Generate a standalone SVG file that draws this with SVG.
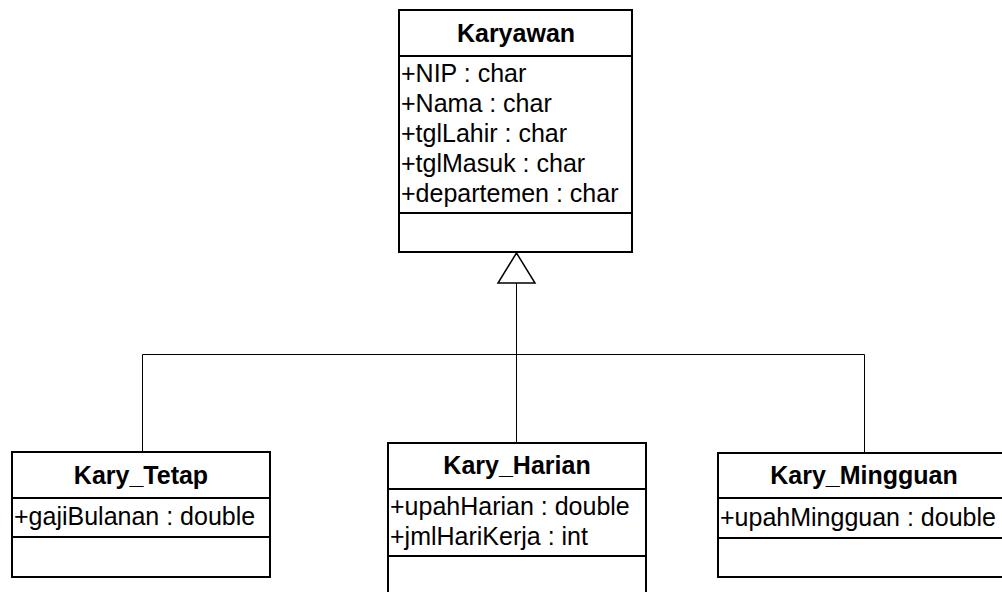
<svg xmlns="http://www.w3.org/2000/svg" width="1002" height="592" viewBox="0 0 1002 592">
  <style>
    .box { fill: #ffffff; stroke: #000000; stroke-width: 2; }
    .sep { stroke: #000000; stroke-width: 2; }
    .title { font-family: "Liberation Sans", Arial, sans-serif; font-size: 25px; font-weight: bold; fill: #000000; text-anchor: middle; }
    .attr { font-family: "Liberation Sans", Arial, sans-serif; font-size: 25px; fill: #000000; }
    .link { fill: none; stroke: #000000; stroke-width: 1; }
    .head { fill: #ffffff; stroke: #000000; stroke-width: 1.5; }
  </style>
  <rect width="1002" height="592" fill="#ffffff"/>

  <!-- generalization connectors -->
  <g id="connectors">
    <path class="link" d="M516.5 283 V443"/>
    <path class="link" d="M142.5 452 V354.5 H864.5 V453"/>
    <polygon class="head" points="516.5,253 498,283 535,283"/>
  </g>

  <!-- superclass -->
  <g id="Karyawan">
    <rect class="box" x="399" y="10" width="233" height="242"/>
    <line class="sep" x1="399" y1="56" x2="632" y2="56"/>
    <line class="sep" x1="399" y1="213" x2="632" y2="213"/>
    <text class="title" x="516" y="42">Karyawan</text>
    <text class="attr" x="401" y="82">+NIP : char</text>
    <text class="attr" x="401" y="112">+Nama : char</text>
    <text class="attr" x="401" y="142">+tglLahir : char</text>
    <text class="attr" x="401" y="172">+tglMasuk : char</text>
    <text class="attr" x="401" y="202">+departemen : char</text>
  </g>

  <!-- subclasses -->
  <g id="Kary_Tetap">
    <rect class="box" x="12" y="452" width="258" height="125"/>
    <line class="sep" x1="12" y1="498" x2="270" y2="498"/>
    <line class="sep" x1="12" y1="537" x2="270" y2="537"/>
    <text class="title" x="141" y="484">Kary_Tetap</text>
    <text class="attr" x="14" y="525">+gajiBulanan : double</text>
  </g>

  <g id="Kary_Harian">
    <rect class="box" x="388" y="443" width="258" height="160"/>
    <line class="sep" x1="388" y1="489" x2="646" y2="489"/>
    <line class="sep" x1="388" y1="556" x2="646" y2="556"/>
    <text class="title" x="517" y="474">Kary_Harian</text>
    <text class="attr" x="390" y="515">+upahHarian : double</text>
    <text class="attr" x="390" y="545">+jmlHariKerja : int</text>
  </g>

  <g id="Kary_Mingguan">
    <rect class="box" x="718" y="453" width="292" height="124"/>
    <line class="sep" x1="718" y1="498" x2="1010" y2="498"/>
    <line class="sep" x1="718" y1="538" x2="1010" y2="538"/>
    <text class="title" x="864" y="484">Kary_Mingguan</text>
    <text class="attr" x="720" y="526">+upahMingguan : double</text>
  </g>
</svg>
